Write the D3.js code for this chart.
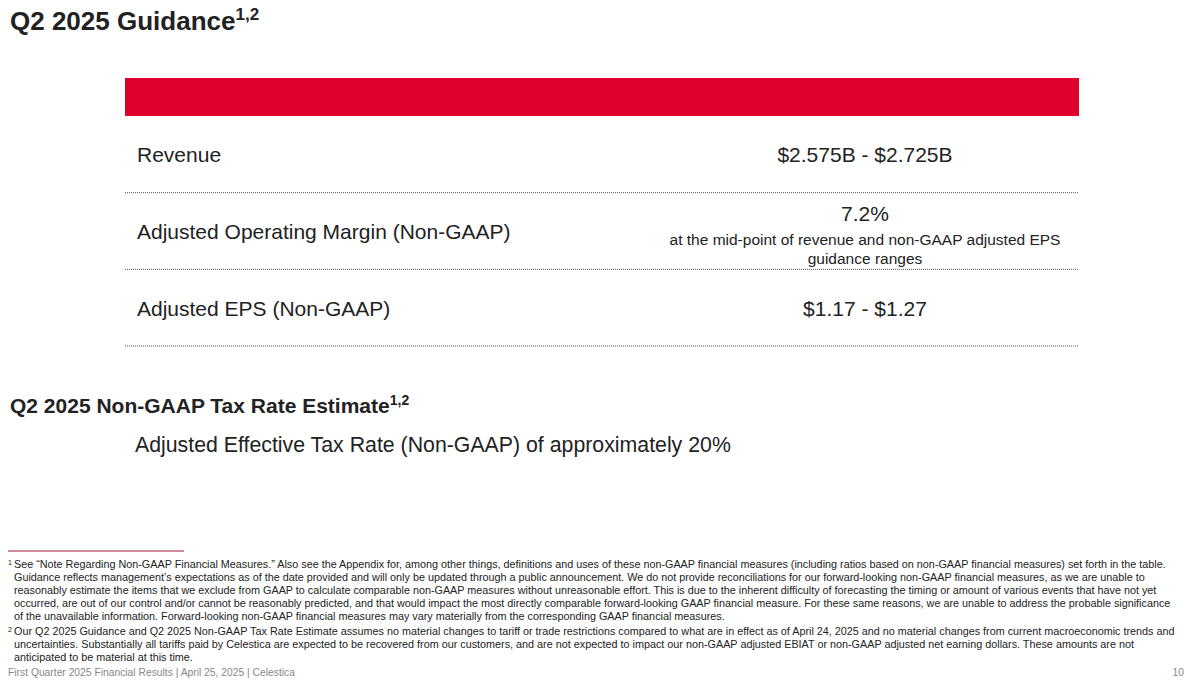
<!DOCTYPE html>
<html><head><meta charset="utf-8">
<script src="https://cdn.jsdelivr.net/npm/d3@7"></script>
<style>body{margin:0;background:#fff;font-family:"Liberation Sans",Arial,sans-serif}</style>
</head><body><div class="graph"></div>
<script>
var rowLabels = ["Revenue", "Adjusted Operating Margin (Non-GAAP)", "Adjusted EPS (Non-GAAP)"]
var rowValues = [["$2.575B - $2.725B"], ["7.2%"], ["$1.17 - $1.27"]]
var rowNotes = [[], ["at the mid-point of revenue and non-GAAP adjusted EPS", "guidance ranges"], []]
var taxLine = "Adjusted Effective Tax Rate (Non-GAAP) of approximately 20%"
var foot1 = [
 "See \u201CNote Regarding Non-GAAP Financial Measures.\u201D Also see the Appendix for, among other things, definitions and uses of these non-GAAP financial measures (including ratios based on non-GAAP financial measures) set forth in the table.",
 "Guidance reflects management\u2019s expectations as of the date provided and will only be updated through a public announcement. We do not provide reconciliations for our forward-looking non-GAAP financial measures, as we are unable to",
 "reasonably estimate the items that we exclude from GAAP to calculate comparable non-GAAP measures without unreasonable effort. This is due to the inherent difficulty of forecasting the timing or amount of various events that have not yet",
 "occurred, are out of our control and/or cannot be reasonably predicted, and that would impact the most directly comparable forward-looking GAAP financial measure. For these same reasons, we are unable to address the probable significance",
 "of the unavailable information. Forward-looking non-GAAP financial measures may vary materially from the corresponding GAAP financial measures."]
var foot2 = [
 "Our Q2 2025 Guidance and Q2 2025 Non-GAAP Tax Rate Estimate assumes no material changes to tariff or trade restrictions compared to what are in effect as of April 24, 2025 and no material changes from current macroeconomic trends and",
 "uncertainties. Substantially all tariffs paid by Celestica are expected to be recovered from our customers, and are not expected to impact our non-GAAP adjusted EBIAT or non-GAAP adjusted net earning dollars. These amounts are not",
 "anticipated to be material at this time."]

var svg = d3.select('.graph').append('svg').attr('width', 1192).attr('height', 684)

// title
var t = svg.append('text').attr('x', 10).attr('y', 30).attr('font-size', 26).attr('font-weight', 'bold').attr('fill', '#222')
t.append('tspan').text('Q2 2025 Guidance')
t.append('tspan').attr('font-size', 17).attr('dy', -10).text('1,2')

// table
var tx = 125, tw = 954
svg.append('rect').attr('x', tx).attr('y', 78).attr('width', tw).attr('height', 38).attr('fill', '#E0002D')
var y = d3.scaleBand().domain(d3.range(rowLabels.length)).range([116, 346])
var rows = svg.selectAll('.row').data(rowLabels).join('g')
    .attr('transform', (d, i) => 'translate(0,' + y(i) + ')')
rows.append('text').attr('x', 137).attr('y', y.bandwidth() / 2 + 8)
    .attr('font-size', 21).attr('fill', '#222').text(d => d)
rows.append('line').attr('x1', tx).attr('x2', tx + tw).attr('y1', y.bandwidth()).attr('y2', y.bandwidth())
    .attr('stroke', '#555').attr('stroke-width', 1).attr('stroke-dasharray', '1,1')
rows.each(function(d, i) {
    var g = d3.select(this)
    var n = rowNotes[i].length
    var vy = n ? 28 : y.bandwidth() / 2 + 8
    g.append('text').attr('x', 865).attr('y', vy).attr('text-anchor', 'middle')
        .attr('font-size', 21).attr('fill', '#222').text(rowValues[i][0])
    g.selectAll('.note').data(rowNotes[i]).join('text').attr('x', 865).attr('y', (d, k) => 52 + k * 19)
        .attr('text-anchor', 'middle').attr('font-size', 15.5).attr('fill', '#222').text(d => d)
})

// tax section
var s = svg.append('text').attr('x', 10).attr('y', 413).attr('font-size', 21).attr('font-weight', 'bold').attr('fill', '#222')
s.append('tspan').text('Q2 2025 Non-GAAP Tax Rate Estimate')
s.append('tspan').attr('font-size', 14).attr('dy', -8).text('1,2')
svg.append('text').attr('x', 135).attr('y', 452).attr('font-size', 21.3).attr('fill', '#222').text(taxLine)

// footnotes
svg.append('line').attr('x1', 8).attr('x2', 184).attr('y1', 551).attr('y2', 551).attr('stroke', '#A0173D')
function foot(lines, mark, y0) {
    var f = svg.append('g').attr('font-size', 10.8).attr('fill', '#222')
    f.append('text').attr('x', 8).attr('y', y0 - 3).attr('font-size', 7).text(mark)
    f.selectAll('.l').data(lines).join('text').attr('x', 14).attr('y', (d, i) => y0 + i * 13).text(d => d)
}
foot(foot1, '1', 568)
foot(foot2, '2', 635)
svg.append('text').attr('x', 8).attr('y', 676).attr('font-size', 10.3).attr('fill', '#888')
    .text('First Quarter 2025 Financial Results |  April 25, 2025  |  Celestica')
svg.append('text').attr('x', 1184).attr('y', 676).attr('font-size', 10.3).attr('fill', '#888').attr('text-anchor', 'end').text('10')
</script></body></html>
